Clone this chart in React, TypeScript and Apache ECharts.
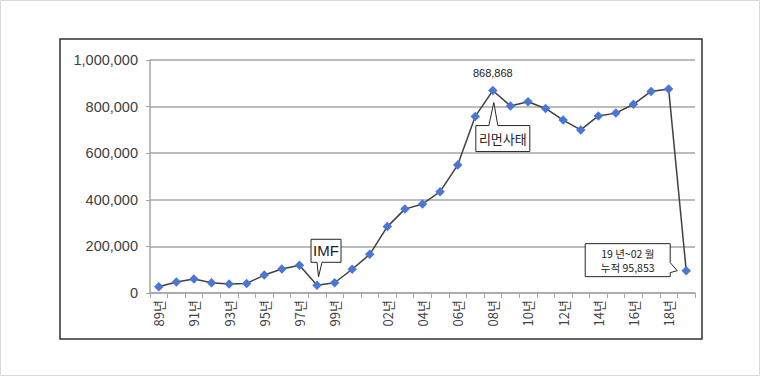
import React, { useEffect, useRef } from "react";
import * as echarts from "echarts";

const categories = [
  "89", "90", "91", "92", "93", "94", "95", "96", "97", "98", "99",
  "00", "01", "02", "03", "04", "05", "06", "07", "08", "09", "10",
  "11", "12", "13", "14", "15", "16", "17", "18", "19",
];
const tickLabels = [
  "89년", "", "91년", "", "93년", "", "95년", "", "97년", "", "99년",
  "", "", "02년", "", "04년", "", "06년", "", "08년", "", "10년",
  "", "12년", "", "14년", "", "16년", "", "18년", "",
];
const values = [
  27000, 47000, 60000, 44000, 39000, 41000, 77000, 103000, 119000, 33000, 44000,
  102000, 166000, 285000, 360000, 382000, 435000, 549000, 758000, 868868, 803000, 821000,
  792000, 742000, 700000, 760000, 772000, 810000, 865000, 876000, 95853,
];
const yTicks = { min: 0, max: 1000000, interval: 200000 };
const peakIndex = 19;
const imfIndex = 9;
const lastIndex = 30;
const peakLabel = "868,868";
const imfText = "IMF";
const lehmanText = "리먼사태";
const lastText = ["19 년~02 월", "누적 95,853"];

const FONT = '"Liberation Sans", "Noto Sans CJK KR", sans-serif';
const KFONT = '"Noto Sans CJK KR", "Liberation Sans", sans-serif';

export default function App() {
  const ref = useRef<HTMLDivElement>(null);
  useEffect(() => {
    document.body.style.margin = "0";
    const chart = echarts.init(ref.current!, null, { renderer: "svg" });
    const option: any = {
      animation: false,
      backgroundColor: "#ffffff",
      grid: { left: 150, right: 65, top: 60, bottom: 83, containLabel: false },
      xAxis: {
        type: "category",
        data: categories,
        boundaryGap: true,
        axisLine: { show: true, lineStyle: { color: "#a6a6a6", width: 1.5 } },
        axisTick: { show: true, interval: 0, length: 5, lineStyle: { color: "#a6a6a6" } },
        axisLabel: {
          interval: 0,
          rotate: 90,
          margin: 7,
          fontSize: 13,
          color: "#404040",
          fontFamily: KFONT,
          formatter: (_v: string, i: number) => tickLabels[i],
        },
        splitLine: { show: false },
      },
      yAxis: {
        type: "value",
        min: yTicks.min,
        max: yTicks.max,
        interval: yTicks.interval,
        axisLine: { show: true, lineStyle: { color: "#a6a6a6", width: 1.5 } },
        axisTick: { show: true, length: 4, lineStyle: { color: "#a6a6a6" } },
        axisLabel: {
          margin: 12,
          fontSize: 14.5,
          color: "#404040",
          fontFamily: FONT,
          formatter: (v: number) => v.toLocaleString("en-US"),
        },
        splitLine: { show: true, lineStyle: { color: "#a6a6a6", width: 1.5 } },
      },
      series: [
        {
          type: "line",
          data: values.map((v, i) =>
            i === peakIndex
              ? {
                  value: v,
                  label: {
                    show: true,
                    position: "top",
                    distance: 7,
                    formatter: peakLabel,
                    fontSize: 11,
                    color: "#222",
                    fontFamily: FONT,
                  },
                }
              : v
          ),
          symbol: "diamond",
          symbolSize: 9.5,
          itemStyle: { color: "#4a76d6" },
          lineStyle: { color: "#404040", width: 1.5 },
          z: 3,
        },
      ],
    };
    chart.setOption(option);

    const px = (i: number) => chart.convertToPixel({ seriesIndex: 0 }, [i, values[i]]) as number[];
    const boxStyle = { fill: "#ffffff", stroke: "#262626", lineWidth: 1 };

    const [ix, iy] = px(imfIndex);
    const imf = { L: ix - 6, R: ix + 24, T: iy - 46, B: iy - 23 };
    const [lx, ly] = px(peakIndex);
    const leh = { L: lx - 17, R: lx + 37, T: ly + 35, B: ly + 61 };
    const [zx, zy] = px(lastIndex);
    const last = { L: zx - 101, R: zx - 16, T: zy - 27, B: zy + 6 };

    chart.setOption({
      graphic: [
        {
          type: "rect",
          shape: { x: 0.5, y: 0.5, width: 759, height: 375 },
          style: { fill: "none", stroke: "#d9d9d9", lineWidth: 1 },
          silent: true,
          z: 0,
        },
        {
          type: "rect",
          shape: { x: 60, y: 39, width: 642, height: 300 },
          style: { fill: "none", stroke: "#303030", lineWidth: 1.5 },
          silent: true,
          z: 0,
        },
        {
          type: "polygon",
          shape: {
            points: [
              [imf.L, imf.T], [imf.R, imf.T], [imf.R, imf.B], [ix + 5, imf.B],
              [ix + 1.5, iy - 8.5], [ix, imf.B], [imf.L, imf.B],
            ],
          },
          style: boxStyle,
          z: 10,
        },
        {
          type: "text",
          x: (imf.L + imf.R) / 2,
          y: (imf.T + imf.B) / 2,
          style: {
            text: imfText, fontSize: 15, fill: "#222", fontFamily: FONT,
            align: "center", verticalAlign: "middle",
          },
          z: 11,
        },
        {
          type: "polygon",
          shape: {
            points: [
              [leh.L, leh.T], [lx - 4, leh.T], [lx + 1, ly + 12], [lx + 5, leh.T],
              [leh.R, leh.T], [leh.R, leh.B], [leh.L, leh.B],
            ],
          },
          style: boxStyle,
          z: 10,
        },
        {
          type: "text",
          x: (leh.L + leh.R) / 2,
          y: (leh.T + leh.B) / 2,
          style: {
            text: lehmanText, fontSize: 13, fill: "#222", fontFamily: KFONT,
            align: "center", verticalAlign: "middle",
          },
          z: 11,
        },
        {
          type: "polygon",
          shape: {
            points: [
              [last.L, last.T], [last.R, last.T], [last.R, zy - 8], [zx - 9, zy],
              [last.R, zy + 2], [last.R, last.B], [last.L, last.B],
            ],
          },
          style: boxStyle,
          z: 10,
        },
        {
          type: "text",
          x: (last.L + last.R) / 2,
          y: (last.T + last.B) / 2,
          style: {
            text: lastText.join("\n"), fontSize: 10.5, lineHeight: 14, fill: "#222",
            fontFamily: KFONT, align: "center", verticalAlign: "middle",
          },
          z: 11,
        },
      ],
    });
    return () => chart.dispose();
  }, []);
  return (
    <div
      ref={ref}
      style={{ width: 760, height: 376, position: "absolute", left: 0, top: 0 }}
    />
  );
}
